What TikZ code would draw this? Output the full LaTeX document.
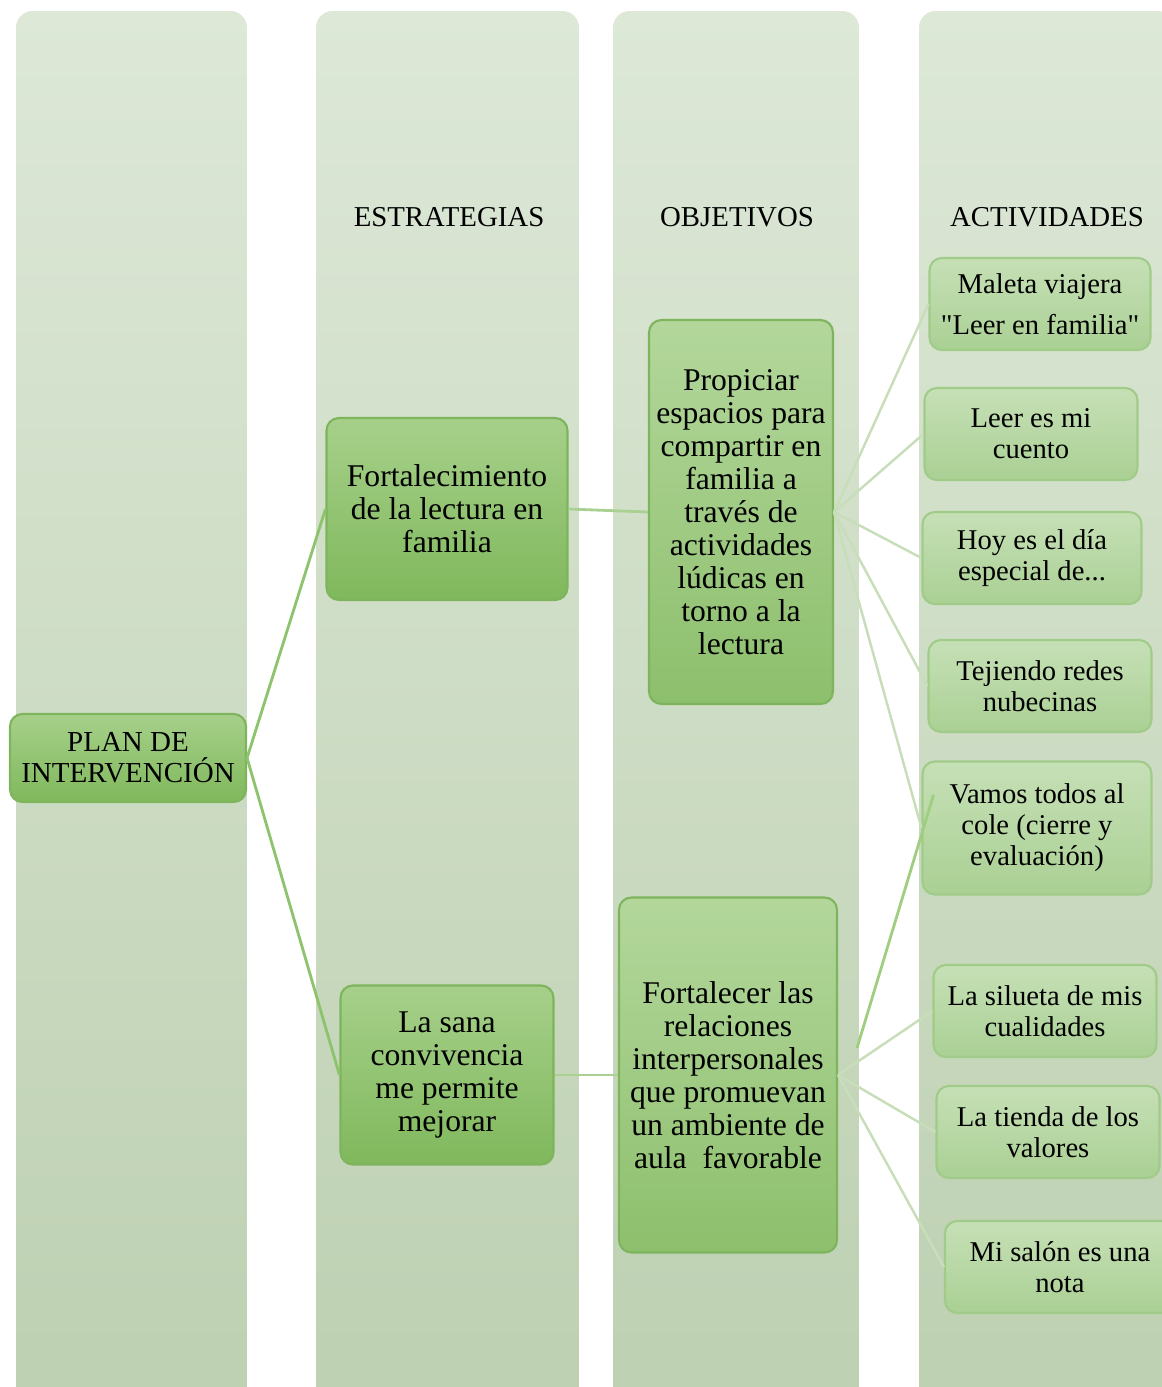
\documentclass[tikz,border=0pt]{standalone}
\usepackage{fontspec}
\setmainfont{Liberation Serif}[Ligatures=TeXOff]
\usetikzlibrary{calc}
\definecolor{colTop}{RGB}{221,232,215}
\definecolor{colBot}{RGB}{189,208,177}
\definecolor{boxTop}{RGB}{166,208,138}
\definecolor{boxBot}{RGB}{128,184,92}
\definecolor{boxEdge}{RGB}{125,180,92}
\definecolor{actTop}{RGB}{198,224,182}
\definecolor{actBot}{RGB}{170,208,148}
\definecolor{actEdge}{RGB}{160,203,136}
\begin{document}
\begin{tikzpicture}[x=0.02cm, y=-0.02cm,
  colbox/.style={draw=white, line width=1pt, rounded corners=10pt, top color=colTop, bottom color=colBot},
  header/.style={font=\fontsize{16.4}{18}\selectfont},
  mainbox/.style={draw=boxEdge, line width=1.2pt, rounded corners=7pt, top color=boxTop, bottom color=boxBot,
    align=center, inner sep=2pt, font=\fontsize{18}{18.8}\selectfont},
  planbox/.style={mainbox, font=\fontsize{16.5}{17.6}\selectfont},
  objbox/.style={mainbox, top color=boxTop!85!white, bottom color=boxBot!90!white},
  actbox/.style={draw=actEdge, line width=1.2pt, rounded corners=7pt, top color=actTop, bottom color=actBot,
    align=center, inner sep=2pt, minimum height=1.84cm, font=\fontsize{16.3}{17.6}\selectfont},
  planlink/.style={draw={rgb,255:red,140;green,195;blue,108}, line width=1.6pt},
  objlink/.style={draw={rgb,255:red,170;green,208;blue,146}, line width=1.6pt},
  actlink/.style={draw={rgb,255:red,200;green,222;blue,186}, line width=1.4pt},
  extralink/.style={draw={rgb,255:red,160;green,206;blue,128}, line width=1.6pt}]
  \useasboundingbox (0,0) rectangle (1162,1387);
  \clip (0,0) rectangle (1162,1387);
  % columns
  \foreach \xa/\xb in {15/248, 315/580, 612/860, 918/1175}
    \path[colbox] (\xa,10) rectangle (\xb,1420);
  \node[header] (hEst) at (449,217) {ESTRATEGIAS};
  \node[header] (hObj) at (737,217) {OBJETIVOS};
  \node[header] (hAct) at (1047,217) {ACTIVIDADES};
  % plan, estrategias, objetivos
  \node[planbox, minimum width=4.72cm, minimum height=1.76cm] (plan) at (128,758) {PLAN DE\\INTERVENCIÓN};
  \node[mainbox, minimum width=4.82cm, minimum height=3.64cm] (est1) at (447,509) {Fortalecimiento\\de la lectura en\\familia};
  \node[mainbox, minimum width=4.26cm, minimum height=3.58cm] (est2) at (447,1075) {La sana\\convivencia\\me permite\\mejorar};
  \node[objbox, minimum width=3.68cm, minimum height=7.68cm] (obj1) at (741,512)
    {Propiciar\\espacios para\\compartir en\\familia a\\través de\\actividades\\lúdicas en\\torno a la\\lectura};
  \node[objbox, minimum width=4.36cm, minimum height=7.10cm] (obj2) at (728,1075)
    {Fortalecer las\\relaciones\\interpersonales\\que promuevan\\un ambiente de\\aula\ \ favorable};
  % actividades
  \foreach \n/\x/\y/\w/\t in {a1/1040/304/4.42/{Maleta viajera\\[5.5pt]"Leer en familia"},
      a2/1031/434/4.26/{Leer es mi\\cuento}, a3/1032/558/4.38/{Hoy es el día\\especial de...},
      a4/1040/686/4.46/{Tejiendo redes\\nubecinas}, a6/1045/1011/4.46/{La silueta de mis\\cualidades},
      a7/1048/1132/4.46/{La tienda de los\\valores}, a8/1060/1267/4.60/{Mi salón es una\\nota}}
    \node[actbox, minimum width=\w cm] (\n) at (\x,\y) {\t};
  \node[actbox, minimum width=4.58cm, minimum height=2.66cm] (a5) at (1037,828) {Vamos todos al\\cole (cierre y\\evaluación)};
  % connectors
  \draw[planlink] (plan.east) -- (est1.west);
  \draw[planlink] (plan.east) -- (est2.west);
  \draw[objlink] (est1.east) -- (obj1.west);
  \draw[objlink] (est2.east) -- (obj2.west);
  \foreach \a in {a1,a2,a3,a4,a5}
    \draw[actlink] (obj1.east) -- (\a.west);
  \foreach \a in {a6,a7,a8}
    \draw[actlink] (obj2.east) -- (\a.west);
  \coordinate (kink) at (857,1048);
  \draw[extralink] (kink) -- ($(a5.west)+(12,-33)$);
\end{tikzpicture}
\end{document}
